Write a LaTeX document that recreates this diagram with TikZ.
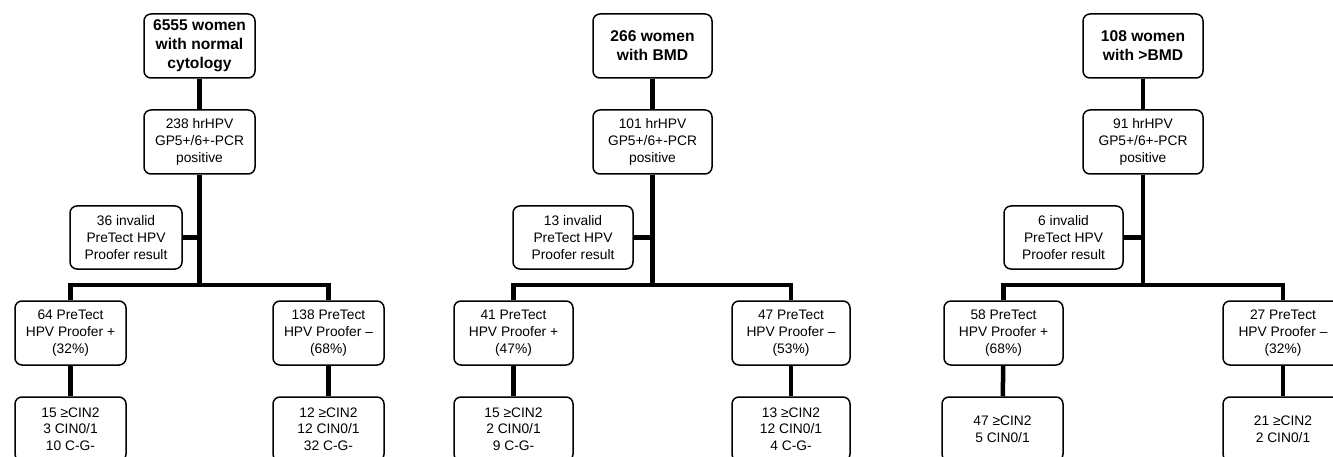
\documentclass[tikz,border=0pt]{standalone}
\usepackage{fontspec}
\setmainfont{Liberation Sans}
\begin{document}
\begin{tikzpicture}[x=1pt,y=-1pt,
  box/.style={draw=black,line width=1.5pt,rounded corners=7pt,rectangle,align=center,inner sep=0pt,
    minimum height=64pt,font=\fontsize{13.8}{16.7}\selectfont},
  topbox/.style={box,font=\fontsize{15.6}{19}\selectfont\bfseries},
  conn/.style={line width=4.5pt,line join=miter}]
\useasboundingbox (0,0) rectangle (1333,457);
\clip (0,0) rectangle (1333,457);
% Panel 1
\node[topbox,minimum width=111pt] (t1) at (199.5,46) {6555 women\\with normal\\cytology};
\node[box,minimum width=111pt] (h1) at (199.5,142) {238 hrHPV\\GP5+/6+-PCR\\positive};
\node[box,minimum width=112pt,minimum height=63pt] (i1) at (126,237.5) {36 invalid\\PreTect HPV\\Proofer result};
\node[box,minimum width=111pt] (p1) at (70.5,333) {64 PreTect\\HPV Proofer +\\(32\%)};
\node[box,minimum width=111pt] (n1) at (328.5,333) {138 PreTect\\HPV Proofer –\\(68\%)};
\node[box,minimum width=111pt] (rp1) at (70.5,429) {15 ≥CIN2\\3 CIN0/1\\10 C-G-};
\node[box,minimum width=111pt] (rn1) at (328.5,429) {12 ≥CIN2\\12 CIN0/1\\32 C-G-};
\coordinate (j1) at (199.5,285);
% Panel 2
\node[topbox,minimum width=119pt] (t2) at (652.5,46) {266 women\\with BMD};
\node[box,minimum width=119pt] (h2) at (652.5,142) {101 hrHPV\\GP5+/6+-PCR\\positive};
\node[box,minimum width=120pt,minimum height=63pt] (i2) at (573,237.5) {13 invalid\\PreTect HPV\\Proofer result};
\node[box,minimum width=119pt] (p2) at (513.5,333) {41 PreTect\\HPV Proofer +\\(47\%)};
\node[box,minimum width=118pt] (n2) at (791,333) {47 PreTect\\HPV Proofer –\\(53\%)};
\node[box,minimum width=119pt] (rp2) at (513.5,429) {15 ≥CIN2\\2 CIN0/1\\9 C-G-};
\node[box,minimum width=118pt] (rn2) at (791,429) {13 ≥CIN2\\12 CIN0/1\\4 C-G-};
\coordinate (j2) at (652.5,285);
% Panel 3
\node[topbox,minimum width=120pt] (t3) at (1143,46) {108 women\\with >BMD};
\node[box,minimum width=120pt] (h3) at (1143,142) {91 hrHPV\\GP5+/6+-PCR\\positive};
\node[box,minimum width=119pt,minimum height=63pt] (i3) at (1063.5,237.5) {6 invalid\\PreTect HPV\\Proofer result};
\node[box,minimum width=119pt] (p3) at (1003.5,333) {58 PreTect\\HPV Proofer +\\(68\%)};
\node[box,minimum width=120pt] (n3) at (1283,333) {27 PreTect\\HPV Proofer –\\(32\%)};
\node[box,minimum width=121pt] (rp3) at (1002.5,429) {47 ≥CIN2\\5 CIN0/1};
\node[box,minimum width=120pt] (rn3) at (1283,429) {21 ≥CIN2\\2 CIN0/1};
\coordinate (j3) at (1143,285);
% Connectors
\foreach \k in {1,2,3}{
  \draw[conn] (t\k) -- (h\k);
  \draw[conn] (h\k.south) -- (j\k);
  \draw[conn] (i\k.east) -- (i\k.east -| j\k);
  \draw[conn] (p\k.north) |- (j\k) -| (n\k.north);
  \draw[conn] (p\k) -- (rp\k);
  \draw[conn] (n\k) -- (rn\k);
}
\end{tikzpicture}
\end{document}
